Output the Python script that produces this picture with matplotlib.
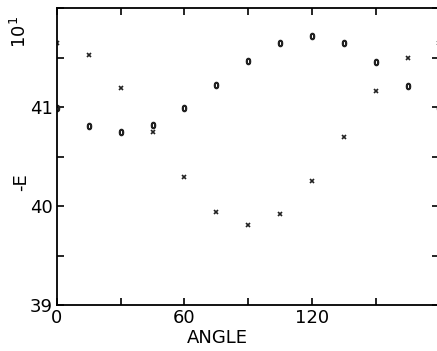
import numpy as np
import matplotlib
matplotlib.use('Agg')
import matplotlib.pyplot as plt
from matplotlib import font_manager
from matplotlib.ticker import MultipleLocator, FixedLocator


# data
angle = [0, 15, 30, 45, 60, 75, 90, 105, 120, 135, 150, 165, 180]
e_o = [40.99, 40.81, 40.75, 40.82, 40.99, 41.23, 41.47, 41.65, 41.72, 41.65, 41.46, 41.22, 40.99]
e_x = [41.65, 41.53, 41.20, 40.75, 40.29, 39.94, 39.81, 39.92, 40.25, 40.70, 41.16, 41.50, 41.65]

xticks = [0, 60, 120]
yticks = [39, 40, 41]

# narrow font if there is one, else DejaVu
names = {f.name for f in font_manager.fontManager.ttflist}
fam = 'Liberation Sans Narrow' if 'Liberation Sans Narrow' in names else 'DejaVu Sans'
plt.rcParams['font.family'] = fam
fs = 15 if fam != 'DejaVu Sans' else 13

fig = plt.figure(figsize=(4.37, 3.51), dpi=100)
ax = fig.add_axes([0.1304, 0.131, 0.8753, 0.845])

ax.plot(angle, e_o, ls='none', marker='$0$', ms=4.5, color='#222222')
ax.plot(angle, e_x, ls='none', marker='x', ms=2.8, mew=1.2, color='#222222')

ax.set_xlim(0, 180)
ax.set_ylim(39, 42)
ax.xaxis.set_major_locator(FixedLocator(xticks))
ax.xaxis.set_minor_locator(MultipleLocator(30))
ax.yaxis.set_major_locator(FixedLocator(yticks))
ax.yaxis.set_minor_locator(MultipleLocator(0.5))

ax.tick_params(which='both', direction='in', top=True, right=True,
               length=5, width=1.2, labelsize=fs, pad=3)
for s in ax.spines.values():
    s.set_linewidth(1.3)

ax.set_xlabel('ANGLE', fontsize=fs)
ax.xaxis.set_label_coords(0.42, -0.08)
ax.set_ylabel('-E', fontsize=fs)
ax.yaxis.set_label_coords(-0.07, 0.415)

fig.text(0.045, 0.91, r'10$^{1}$', rotation=90, fontsize=fs,
         ha='center', va='center')

fig.savefig('out.png', dpi=100)
